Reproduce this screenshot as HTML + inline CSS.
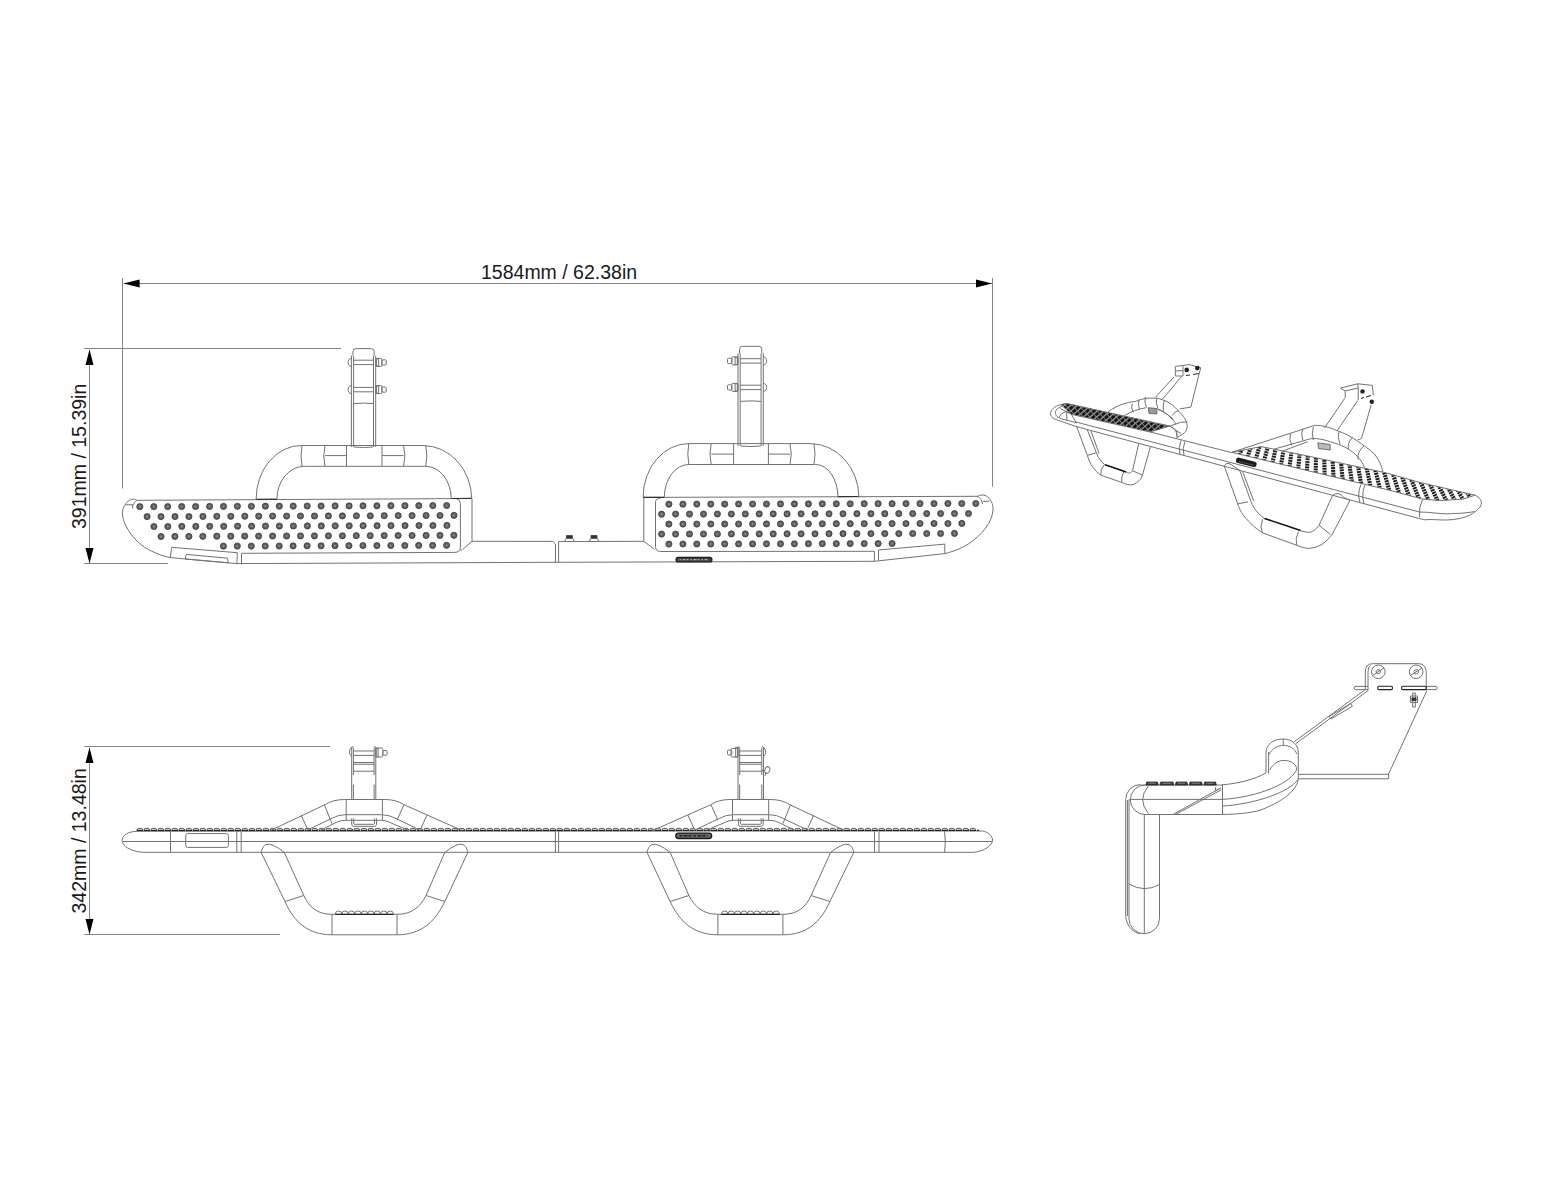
<!DOCTYPE html>
<html><head><meta charset="utf-8"><style>
html,body{margin:0;padding:0;background:#fff;}
svg{display:block;}
.dim line{stroke:#858585;stroke-width:1;}
.arr path{fill:#000;stroke:none;}
.txt text{font-family:"Liberation Sans",sans-serif;font-size:19.5px;fill:#1a1a1a;}
.o{fill:none;stroke:#727272;stroke-width:1;}
.o path,.o line,.o rect,.o circle,.o ellipse{fill:none;stroke:#727272;stroke-width:1;}
.bump{fill:none;stroke:#444;stroke-width:0.9;}
.dot circle{fill:#5e5e5e;stroke:#333;stroke-width:0.7;}
.dot circle.c{fill:#8a8a8a;stroke:none;}
</style></head><body>
<svg width="1552" height="1200" viewBox="0 0 1552 1200">
<rect width="1552" height="1200" fill="#fff"/>
<g class="dim">
<line x1="124.0" y1="283.5" x2="992.0" y2="283.5"/>
<line x1="122.5" y1="278.0" x2="122.5" y2="488.5"/>
<line x1="992.5" y1="278.0" x2="992.5" y2="486.7"/>
<line x1="89.5" y1="350.0" x2="89.5" y2="563.0"/>
<line x1="84.0" y1="348.5" x2="341.0" y2="348.5"/>
<line x1="84.0" y1="563.5" x2="168.0" y2="563.5"/>
<line x1="89.5" y1="748.0" x2="89.5" y2="934.0"/>
<line x1="84.5" y1="746.5" x2="330.0" y2="746.5"/>
<line x1="84.5" y1="934.5" x2="280.0" y2="934.5"/>
</g>
<g class="arr">
<path d="M123.5 283.5 L139.6 279.4 L139.6 287.6 Z"/>
<path d="M992 283.5 L976 279.4 L976 287.6 Z"/>
<path d="M89.5 349.5 L85.5 365 L93.5 365 Z"/>
<path d="M89.5 563.5 L85.5 548 L93.5 548 Z"/>
<path d="M89.5 747.5 L85.5 763 L93.5 763 Z"/>
<path d="M89.5 934.5 L85.5 919 L93.5 919 Z"/>
</g>
<g class="txt">
<text x="481" y="279">1584mm / 62.38in</text>
<text transform="translate(85.5,529) rotate(-90)">391mm / 15.39in</text>
<text transform="translate(85.5,913.5) rotate(-90)">342mm / 13.48in</text>
</g>
<g class="o">
<path d="M136.9 500.3 C135.5 499.4 134 499 132.7 499.2 C128.5 499.8 124.6 504 123 509 C121.6 514 123 520 126 526 C132 538 142 547 152 551.3 C158 554.2 164 556.4 170.3 557.6 L236.9 563.6 L553 562.3 L874.4 561.3"/>
<path d="M136.9 500.3 L472 498.5"/>
<path d="M136.9 500.3 C135 501.5 134 503 133.5 504.8 M125.7 504.8 L133.5 504.8 M132.7 504.8 L132.7 508.6"/>
<path d="M241.5 553.3 L454.6 552.4 Q460.4 552.3 460.4 547.2 L460.4 503.6 Q460.4 499.6 456.6 498.9"/>
<path d="M170.3 557.6 L171.6 547.3 L237.3 552.7 L236.9 563.6"/>
<path d="M186.3 554.4 L227.7 558.2 L228.1 562.8 L185 559 Z"/>
<path d="M241.5 553.3 L241.5 564.3"/>
<path d="M472 498.5 L472 541.3 L462.7 549.5 Q461.5 550.5 460.4 549.8"/>
<path d="M472 541.3 L552.8 541.4 L555.5 544 L555.5 562.3 M558.6 562.3 L558.6 541.6 L643.8 541.3"/>
<path d="M643.8 497.4 L643.8 541.3 L654.3 549.2"/>
<path d="M643.8 497.4 L977.3 496.3"/>
<path d="M660.5 498 Q655.5 498 655.5 503 L655.5 546.5 Q655.5 551.5 660.5 551.5 L874.4 551.3 L874.4 561.3"/>
<path d="M878.5 560.4 L878.5 550 L944.8 544.1 L944.8 553.6"/>
<path d="M874.4 561.3 L944.8 553.6 C955 551 962 548 968.2 544.1 C982 535 992.5 522 993 509.8 C993.3 504 990.5 498 986 495.8 C983 494.5 980 495 977.3 496.3"/>
<path d="M977.3 496.3 C980.5 498 982.3 500.5 982.5 504 M983 501.3 L989.5 501.3"/>
</g>
<g class="dot">
<circle cx="139.8" cy="506.7" r="3.1"/>
<circle class="c" cx="139.8" cy="506.7" r="1.1"/>
<circle cx="153.8" cy="506.6" r="3.1"/>
<circle class="c" cx="153.8" cy="506.6" r="1.1"/>
<circle cx="167.7" cy="506.6" r="3.1"/>
<circle class="c" cx="167.7" cy="506.6" r="1.1"/>
<circle cx="181.7" cy="506.5" r="3.1"/>
<circle class="c" cx="181.7" cy="506.5" r="1.1"/>
<circle cx="195.6" cy="506.5" r="3.1"/>
<circle class="c" cx="195.6" cy="506.5" r="1.1"/>
<circle cx="209.6" cy="506.4" r="3.1"/>
<circle class="c" cx="209.6" cy="506.4" r="1.1"/>
<circle cx="223.5" cy="506.4" r="3.1"/>
<circle class="c" cx="223.5" cy="506.4" r="1.1"/>
<circle cx="237.4" cy="506.3" r="3.1"/>
<circle class="c" cx="237.4" cy="506.3" r="1.1"/>
<circle cx="251.4" cy="506.3" r="3.1"/>
<circle class="c" cx="251.4" cy="506.3" r="1.1"/>
<circle cx="265.4" cy="506.2" r="3.1"/>
<circle class="c" cx="265.4" cy="506.2" r="1.1"/>
<circle cx="279.3" cy="506.2" r="3.1"/>
<circle class="c" cx="279.3" cy="506.2" r="1.1"/>
<circle cx="293.2" cy="506.1" r="3.1"/>
<circle class="c" cx="293.2" cy="506.1" r="1.1"/>
<circle cx="307.2" cy="506.0" r="3.1"/>
<circle class="c" cx="307.2" cy="506.0" r="1.1"/>
<circle cx="321.1" cy="506.0" r="3.1"/>
<circle class="c" cx="321.1" cy="506.0" r="1.1"/>
<circle cx="335.1" cy="505.9" r="3.1"/>
<circle class="c" cx="335.1" cy="505.9" r="1.1"/>
<circle cx="349.1" cy="505.9" r="3.1"/>
<circle class="c" cx="349.1" cy="505.9" r="1.1"/>
<circle cx="363.0" cy="505.8" r="3.1"/>
<circle class="c" cx="363.0" cy="505.8" r="1.1"/>
<circle cx="376.9" cy="505.8" r="3.1"/>
<circle class="c" cx="376.9" cy="505.8" r="1.1"/>
<circle cx="390.9" cy="505.7" r="3.1"/>
<circle class="c" cx="390.9" cy="505.7" r="1.1"/>
<circle cx="404.9" cy="505.7" r="3.1"/>
<circle class="c" cx="404.9" cy="505.7" r="1.1"/>
<circle cx="418.8" cy="505.6" r="3.1"/>
<circle class="c" cx="418.8" cy="505.6" r="1.1"/>
<circle cx="432.8" cy="505.6" r="3.1"/>
<circle class="c" cx="432.8" cy="505.6" r="1.1"/>
<circle cx="446.7" cy="505.5" r="3.1"/>
<circle class="c" cx="446.7" cy="505.5" r="1.1"/>
<circle cx="147.1" cy="516.6" r="3.1"/>
<circle class="c" cx="147.1" cy="516.6" r="1.1"/>
<circle cx="161.0" cy="516.6" r="3.1"/>
<circle class="c" cx="161.0" cy="516.6" r="1.1"/>
<circle cx="175.0" cy="516.5" r="3.1"/>
<circle class="c" cx="175.0" cy="516.5" r="1.1"/>
<circle cx="188.9" cy="516.5" r="3.1"/>
<circle class="c" cx="188.9" cy="516.5" r="1.1"/>
<circle cx="202.9" cy="516.4" r="3.1"/>
<circle class="c" cx="202.9" cy="516.4" r="1.1"/>
<circle cx="216.8" cy="516.3" r="3.1"/>
<circle class="c" cx="216.8" cy="516.3" r="1.1"/>
<circle cx="230.8" cy="516.3" r="3.1"/>
<circle class="c" cx="230.8" cy="516.3" r="1.1"/>
<circle cx="244.8" cy="516.2" r="3.1"/>
<circle class="c" cx="244.8" cy="516.2" r="1.1"/>
<circle cx="258.7" cy="516.2" r="3.1"/>
<circle class="c" cx="258.7" cy="516.2" r="1.1"/>
<circle cx="272.6" cy="516.1" r="3.1"/>
<circle class="c" cx="272.6" cy="516.1" r="1.1"/>
<circle cx="286.6" cy="516.1" r="3.1"/>
<circle class="c" cx="286.6" cy="516.1" r="1.1"/>
<circle cx="300.5" cy="516.0" r="3.1"/>
<circle class="c" cx="300.5" cy="516.0" r="1.1"/>
<circle cx="314.5" cy="516.0" r="3.1"/>
<circle class="c" cx="314.5" cy="516.0" r="1.1"/>
<circle cx="328.4" cy="515.9" r="3.1"/>
<circle class="c" cx="328.4" cy="515.9" r="1.1"/>
<circle cx="342.4" cy="515.9" r="3.1"/>
<circle class="c" cx="342.4" cy="515.9" r="1.1"/>
<circle cx="356.4" cy="515.8" r="3.1"/>
<circle class="c" cx="356.4" cy="515.8" r="1.1"/>
<circle cx="370.3" cy="515.8" r="3.1"/>
<circle class="c" cx="370.3" cy="515.8" r="1.1"/>
<circle cx="384.2" cy="515.7" r="3.1"/>
<circle class="c" cx="384.2" cy="515.7" r="1.1"/>
<circle cx="398.2" cy="515.6" r="3.1"/>
<circle class="c" cx="398.2" cy="515.6" r="1.1"/>
<circle cx="412.1" cy="515.6" r="3.1"/>
<circle class="c" cx="412.1" cy="515.6" r="1.1"/>
<circle cx="426.1" cy="515.5" r="3.1"/>
<circle class="c" cx="426.1" cy="515.5" r="1.1"/>
<circle cx="440.0" cy="515.5" r="3.1"/>
<circle class="c" cx="440.0" cy="515.5" r="1.1"/>
<circle cx="454.0" cy="515.4" r="3.1"/>
<circle class="c" cx="454.0" cy="515.4" r="1.1"/>
<circle cx="153.9" cy="526.5" r="3.1"/>
<circle class="c" cx="153.9" cy="526.5" r="1.1"/>
<circle cx="167.8" cy="526.5" r="3.1"/>
<circle class="c" cx="167.8" cy="526.5" r="1.1"/>
<circle cx="181.8" cy="526.4" r="3.1"/>
<circle class="c" cx="181.8" cy="526.4" r="1.1"/>
<circle cx="195.8" cy="526.4" r="3.1"/>
<circle class="c" cx="195.8" cy="526.4" r="1.1"/>
<circle cx="209.7" cy="526.3" r="3.1"/>
<circle class="c" cx="209.7" cy="526.3" r="1.1"/>
<circle cx="223.7" cy="526.3" r="3.1"/>
<circle class="c" cx="223.7" cy="526.3" r="1.1"/>
<circle cx="237.6" cy="526.2" r="3.1"/>
<circle class="c" cx="237.6" cy="526.2" r="1.1"/>
<circle cx="251.6" cy="526.2" r="3.1"/>
<circle class="c" cx="251.6" cy="526.2" r="1.1"/>
<circle cx="265.5" cy="526.1" r="3.1"/>
<circle class="c" cx="265.5" cy="526.1" r="1.1"/>
<circle cx="279.4" cy="526.1" r="3.1"/>
<circle class="c" cx="279.4" cy="526.1" r="1.1"/>
<circle cx="293.4" cy="526.0" r="3.1"/>
<circle class="c" cx="293.4" cy="526.0" r="1.1"/>
<circle cx="307.4" cy="525.9" r="3.1"/>
<circle class="c" cx="307.4" cy="525.9" r="1.1"/>
<circle cx="321.3" cy="525.9" r="3.1"/>
<circle class="c" cx="321.3" cy="525.9" r="1.1"/>
<circle cx="335.2" cy="525.8" r="3.1"/>
<circle class="c" cx="335.2" cy="525.8" r="1.1"/>
<circle cx="349.2" cy="525.8" r="3.1"/>
<circle class="c" cx="349.2" cy="525.8" r="1.1"/>
<circle cx="363.1" cy="525.7" r="3.1"/>
<circle class="c" cx="363.1" cy="525.7" r="1.1"/>
<circle cx="377.1" cy="525.7" r="3.1"/>
<circle class="c" cx="377.1" cy="525.7" r="1.1"/>
<circle cx="391.0" cy="525.6" r="3.1"/>
<circle class="c" cx="391.0" cy="525.6" r="1.1"/>
<circle cx="405.0" cy="525.6" r="3.1"/>
<circle class="c" cx="405.0" cy="525.6" r="1.1"/>
<circle cx="419.0" cy="525.5" r="3.1"/>
<circle class="c" cx="419.0" cy="525.5" r="1.1"/>
<circle cx="432.9" cy="525.5" r="3.1"/>
<circle class="c" cx="432.9" cy="525.5" r="1.1"/>
<circle cx="446.9" cy="525.4" r="3.1"/>
<circle class="c" cx="446.9" cy="525.4" r="1.1"/>
<circle cx="161.0" cy="536.5" r="3.1"/>
<circle class="c" cx="161.0" cy="536.5" r="1.1"/>
<circle cx="174.9" cy="536.4" r="3.1"/>
<circle class="c" cx="174.9" cy="536.4" r="1.1"/>
<circle cx="188.9" cy="536.4" r="3.1"/>
<circle class="c" cx="188.9" cy="536.4" r="1.1"/>
<circle cx="202.8" cy="536.3" r="3.1"/>
<circle class="c" cx="202.8" cy="536.3" r="1.1"/>
<circle cx="216.8" cy="536.2" r="3.1"/>
<circle class="c" cx="216.8" cy="536.2" r="1.1"/>
<circle cx="230.8" cy="536.2" r="3.1"/>
<circle class="c" cx="230.8" cy="536.2" r="1.1"/>
<circle cx="244.7" cy="536.1" r="3.1"/>
<circle class="c" cx="244.7" cy="536.1" r="1.1"/>
<circle cx="258.6" cy="536.1" r="3.1"/>
<circle class="c" cx="258.6" cy="536.1" r="1.1"/>
<circle cx="272.6" cy="536.0" r="3.1"/>
<circle class="c" cx="272.6" cy="536.0" r="1.1"/>
<circle cx="286.6" cy="536.0" r="3.1"/>
<circle class="c" cx="286.6" cy="536.0" r="1.1"/>
<circle cx="300.5" cy="535.9" r="3.1"/>
<circle class="c" cx="300.5" cy="535.9" r="1.1"/>
<circle cx="314.4" cy="535.9" r="3.1"/>
<circle class="c" cx="314.4" cy="535.9" r="1.1"/>
<circle cx="328.4" cy="535.8" r="3.1"/>
<circle class="c" cx="328.4" cy="535.8" r="1.1"/>
<circle cx="342.4" cy="535.8" r="3.1"/>
<circle class="c" cx="342.4" cy="535.8" r="1.1"/>
<circle cx="356.3" cy="535.7" r="3.1"/>
<circle class="c" cx="356.3" cy="535.7" r="1.1"/>
<circle cx="370.2" cy="535.7" r="3.1"/>
<circle class="c" cx="370.2" cy="535.7" r="1.1"/>
<circle cx="384.2" cy="535.6" r="3.1"/>
<circle class="c" cx="384.2" cy="535.6" r="1.1"/>
<circle cx="398.1" cy="535.5" r="3.1"/>
<circle class="c" cx="398.1" cy="535.5" r="1.1"/>
<circle cx="412.1" cy="535.5" r="3.1"/>
<circle class="c" cx="412.1" cy="535.5" r="1.1"/>
<circle cx="426.1" cy="535.4" r="3.1"/>
<circle class="c" cx="426.1" cy="535.4" r="1.1"/>
<circle cx="440.0" cy="535.4" r="3.1"/>
<circle class="c" cx="440.0" cy="535.4" r="1.1"/>
<circle cx="453.9" cy="535.3" r="3.1"/>
<circle class="c" cx="453.9" cy="535.3" r="1.1"/>
<circle cx="223.4" cy="546.2" r="3.1"/>
<circle class="c" cx="223.4" cy="546.2" r="1.1"/>
<circle cx="237.3" cy="546.1" r="3.1"/>
<circle class="c" cx="237.3" cy="546.1" r="1.1"/>
<circle cx="251.3" cy="546.1" r="3.1"/>
<circle class="c" cx="251.3" cy="546.1" r="1.1"/>
<circle cx="265.2" cy="546.0" r="3.1"/>
<circle class="c" cx="265.2" cy="546.0" r="1.1"/>
<circle cx="279.2" cy="546.0" r="3.1"/>
<circle class="c" cx="279.2" cy="546.0" r="1.1"/>
<circle cx="293.1" cy="545.9" r="3.1"/>
<circle class="c" cx="293.1" cy="545.9" r="1.1"/>
<circle cx="307.1" cy="545.8" r="3.1"/>
<circle class="c" cx="307.1" cy="545.8" r="1.1"/>
<circle cx="321.1" cy="545.8" r="3.1"/>
<circle class="c" cx="321.1" cy="545.8" r="1.1"/>
<circle cx="335.0" cy="545.7" r="3.1"/>
<circle class="c" cx="335.0" cy="545.7" r="1.1"/>
<circle cx="348.9" cy="545.7" r="3.1"/>
<circle class="c" cx="348.9" cy="545.7" r="1.1"/>
<circle cx="362.9" cy="545.6" r="3.1"/>
<circle class="c" cx="362.9" cy="545.6" r="1.1"/>
<circle cx="376.9" cy="545.6" r="3.1"/>
<circle class="c" cx="376.9" cy="545.6" r="1.1"/>
<circle cx="390.8" cy="545.5" r="3.1"/>
<circle class="c" cx="390.8" cy="545.5" r="1.1"/>
<circle cx="404.8" cy="545.5" r="3.1"/>
<circle class="c" cx="404.8" cy="545.5" r="1.1"/>
<circle cx="418.7" cy="545.4" r="3.1"/>
<circle class="c" cx="418.7" cy="545.4" r="1.1"/>
<circle cx="432.6" cy="545.4" r="3.1"/>
<circle class="c" cx="432.6" cy="545.4" r="1.1"/>
<circle cx="446.6" cy="545.3" r="3.1"/>
<circle class="c" cx="446.6" cy="545.3" r="1.1"/>
<circle cx="668.9" cy="504.2" r="3.1"/>
<circle class="c" cx="668.9" cy="504.2" r="1.1"/>
<circle cx="682.9" cy="504.2" r="3.1"/>
<circle class="c" cx="682.9" cy="504.2" r="1.1"/>
<circle cx="696.8" cy="504.1" r="3.1"/>
<circle class="c" cx="696.8" cy="504.1" r="1.1"/>
<circle cx="710.8" cy="504.1" r="3.1"/>
<circle class="c" cx="710.8" cy="504.1" r="1.1"/>
<circle cx="724.7" cy="504.1" r="3.1"/>
<circle class="c" cx="724.7" cy="504.1" r="1.1"/>
<circle cx="738.6" cy="504.0" r="3.1"/>
<circle class="c" cx="738.6" cy="504.0" r="1.1"/>
<circle cx="752.6" cy="504.0" r="3.1"/>
<circle class="c" cx="752.6" cy="504.0" r="1.1"/>
<circle cx="766.5" cy="504.0" r="3.1"/>
<circle class="c" cx="766.5" cy="504.0" r="1.1"/>
<circle cx="780.5" cy="503.9" r="3.1"/>
<circle class="c" cx="780.5" cy="503.9" r="1.1"/>
<circle cx="794.4" cy="503.9" r="3.1"/>
<circle class="c" cx="794.4" cy="503.9" r="1.1"/>
<circle cx="808.4" cy="503.9" r="3.1"/>
<circle class="c" cx="808.4" cy="503.9" r="1.1"/>
<circle cx="822.3" cy="503.8" r="3.1"/>
<circle class="c" cx="822.3" cy="503.8" r="1.1"/>
<circle cx="836.3" cy="503.8" r="3.1"/>
<circle class="c" cx="836.3" cy="503.8" r="1.1"/>
<circle cx="850.2" cy="503.8" r="3.1"/>
<circle class="c" cx="850.2" cy="503.8" r="1.1"/>
<circle cx="864.2" cy="503.7" r="3.1"/>
<circle class="c" cx="864.2" cy="503.7" r="1.1"/>
<circle cx="878.1" cy="503.7" r="3.1"/>
<circle class="c" cx="878.1" cy="503.7" r="1.1"/>
<circle cx="892.1" cy="503.7" r="3.1"/>
<circle class="c" cx="892.1" cy="503.7" r="1.1"/>
<circle cx="906.0" cy="503.6" r="3.1"/>
<circle class="c" cx="906.0" cy="503.6" r="1.1"/>
<circle cx="920.0" cy="503.6" r="3.1"/>
<circle class="c" cx="920.0" cy="503.6" r="1.1"/>
<circle cx="934.0" cy="503.6" r="3.1"/>
<circle class="c" cx="934.0" cy="503.6" r="1.1"/>
<circle cx="947.9" cy="503.5" r="3.1"/>
<circle class="c" cx="947.9" cy="503.5" r="1.1"/>
<circle cx="961.8" cy="503.5" r="3.1"/>
<circle class="c" cx="961.8" cy="503.5" r="1.1"/>
<circle cx="975.8" cy="503.5" r="3.1"/>
<circle class="c" cx="975.8" cy="503.5" r="1.1"/>
<circle cx="661.6" cy="514.2" r="3.1"/>
<circle class="c" cx="661.6" cy="514.2" r="1.1"/>
<circle cx="675.6" cy="514.1" r="3.1"/>
<circle class="c" cx="675.6" cy="514.1" r="1.1"/>
<circle cx="689.5" cy="514.1" r="3.1"/>
<circle class="c" cx="689.5" cy="514.1" r="1.1"/>
<circle cx="703.5" cy="514.1" r="3.1"/>
<circle class="c" cx="703.5" cy="514.1" r="1.1"/>
<circle cx="717.4" cy="514.0" r="3.1"/>
<circle class="c" cx="717.4" cy="514.0" r="1.1"/>
<circle cx="731.4" cy="514.0" r="3.1"/>
<circle class="c" cx="731.4" cy="514.0" r="1.1"/>
<circle cx="745.3" cy="514.0" r="3.1"/>
<circle class="c" cx="745.3" cy="514.0" r="1.1"/>
<circle cx="759.2" cy="513.9" r="3.1"/>
<circle class="c" cx="759.2" cy="513.9" r="1.1"/>
<circle cx="773.2" cy="513.9" r="3.1"/>
<circle class="c" cx="773.2" cy="513.9" r="1.1"/>
<circle cx="787.1" cy="513.9" r="3.1"/>
<circle class="c" cx="787.1" cy="513.9" r="1.1"/>
<circle cx="801.1" cy="513.8" r="3.1"/>
<circle class="c" cx="801.1" cy="513.8" r="1.1"/>
<circle cx="815.0" cy="513.8" r="3.1"/>
<circle class="c" cx="815.0" cy="513.8" r="1.1"/>
<circle cx="829.0" cy="513.8" r="3.1"/>
<circle class="c" cx="829.0" cy="513.8" r="1.1"/>
<circle cx="843.0" cy="513.8" r="3.1"/>
<circle class="c" cx="843.0" cy="513.8" r="1.1"/>
<circle cx="856.9" cy="513.7" r="3.1"/>
<circle class="c" cx="856.9" cy="513.7" r="1.1"/>
<circle cx="870.9" cy="513.7" r="3.1"/>
<circle class="c" cx="870.9" cy="513.7" r="1.1"/>
<circle cx="884.8" cy="513.7" r="3.1"/>
<circle class="c" cx="884.8" cy="513.7" r="1.1"/>
<circle cx="898.8" cy="513.6" r="3.1"/>
<circle class="c" cx="898.8" cy="513.6" r="1.1"/>
<circle cx="912.7" cy="513.6" r="3.1"/>
<circle class="c" cx="912.7" cy="513.6" r="1.1"/>
<circle cx="926.7" cy="513.6" r="3.1"/>
<circle class="c" cx="926.7" cy="513.6" r="1.1"/>
<circle cx="940.6" cy="513.5" r="3.1"/>
<circle class="c" cx="940.6" cy="513.5" r="1.1"/>
<circle cx="954.5" cy="513.5" r="3.1"/>
<circle class="c" cx="954.5" cy="513.5" r="1.1"/>
<circle cx="968.5" cy="513.5" r="3.1"/>
<circle class="c" cx="968.5" cy="513.5" r="1.1"/>
<circle cx="668.9" cy="524.1" r="3.1"/>
<circle class="c" cx="668.9" cy="524.1" r="1.1"/>
<circle cx="682.9" cy="524.1" r="3.1"/>
<circle class="c" cx="682.9" cy="524.1" r="1.1"/>
<circle cx="696.8" cy="524.1" r="3.1"/>
<circle class="c" cx="696.8" cy="524.1" r="1.1"/>
<circle cx="710.8" cy="524.0" r="3.1"/>
<circle class="c" cx="710.8" cy="524.0" r="1.1"/>
<circle cx="724.7" cy="524.0" r="3.1"/>
<circle class="c" cx="724.7" cy="524.0" r="1.1"/>
<circle cx="738.6" cy="524.0" r="3.1"/>
<circle class="c" cx="738.6" cy="524.0" r="1.1"/>
<circle cx="752.6" cy="523.9" r="3.1"/>
<circle class="c" cx="752.6" cy="523.9" r="1.1"/>
<circle cx="766.5" cy="523.9" r="3.1"/>
<circle class="c" cx="766.5" cy="523.9" r="1.1"/>
<circle cx="780.5" cy="523.9" r="3.1"/>
<circle class="c" cx="780.5" cy="523.9" r="1.1"/>
<circle cx="794.4" cy="523.8" r="3.1"/>
<circle class="c" cx="794.4" cy="523.8" r="1.1"/>
<circle cx="808.4" cy="523.8" r="3.1"/>
<circle class="c" cx="808.4" cy="523.8" r="1.1"/>
<circle cx="822.3" cy="523.8" r="3.1"/>
<circle class="c" cx="822.3" cy="523.8" r="1.1"/>
<circle cx="836.3" cy="523.7" r="3.1"/>
<circle class="c" cx="836.3" cy="523.7" r="1.1"/>
<circle cx="850.2" cy="523.7" r="3.1"/>
<circle class="c" cx="850.2" cy="523.7" r="1.1"/>
<circle cx="864.2" cy="523.7" r="3.1"/>
<circle class="c" cx="864.2" cy="523.7" r="1.1"/>
<circle cx="878.1" cy="523.6" r="3.1"/>
<circle class="c" cx="878.1" cy="523.6" r="1.1"/>
<circle cx="892.1" cy="523.6" r="3.1"/>
<circle class="c" cx="892.1" cy="523.6" r="1.1"/>
<circle cx="906.0" cy="523.6" r="3.1"/>
<circle class="c" cx="906.0" cy="523.6" r="1.1"/>
<circle cx="920.0" cy="523.5" r="3.1"/>
<circle class="c" cx="920.0" cy="523.5" r="1.1"/>
<circle cx="934.0" cy="523.5" r="3.1"/>
<circle class="c" cx="934.0" cy="523.5" r="1.1"/>
<circle cx="947.9" cy="523.5" r="3.1"/>
<circle class="c" cx="947.9" cy="523.5" r="1.1"/>
<circle cx="961.8" cy="523.4" r="3.1"/>
<circle class="c" cx="961.8" cy="523.4" r="1.1"/>
<circle cx="661.6" cy="534.1" r="3.1"/>
<circle class="c" cx="661.6" cy="534.1" r="1.1"/>
<circle cx="675.6" cy="534.1" r="3.1"/>
<circle class="c" cx="675.6" cy="534.1" r="1.1"/>
<circle cx="689.5" cy="534.0" r="3.1"/>
<circle class="c" cx="689.5" cy="534.0" r="1.1"/>
<circle cx="703.5" cy="534.0" r="3.1"/>
<circle class="c" cx="703.5" cy="534.0" r="1.1"/>
<circle cx="717.4" cy="534.0" r="3.1"/>
<circle class="c" cx="717.4" cy="534.0" r="1.1"/>
<circle cx="731.4" cy="533.9" r="3.1"/>
<circle class="c" cx="731.4" cy="533.9" r="1.1"/>
<circle cx="745.3" cy="533.9" r="3.1"/>
<circle class="c" cx="745.3" cy="533.9" r="1.1"/>
<circle cx="759.2" cy="533.9" r="3.1"/>
<circle class="c" cx="759.2" cy="533.9" r="1.1"/>
<circle cx="773.2" cy="533.9" r="3.1"/>
<circle class="c" cx="773.2" cy="533.9" r="1.1"/>
<circle cx="787.1" cy="533.8" r="3.1"/>
<circle class="c" cx="787.1" cy="533.8" r="1.1"/>
<circle cx="801.1" cy="533.8" r="3.1"/>
<circle class="c" cx="801.1" cy="533.8" r="1.1"/>
<circle cx="815.0" cy="533.8" r="3.1"/>
<circle class="c" cx="815.0" cy="533.8" r="1.1"/>
<circle cx="829.0" cy="533.7" r="3.1"/>
<circle class="c" cx="829.0" cy="533.7" r="1.1"/>
<circle cx="843.0" cy="533.7" r="3.1"/>
<circle class="c" cx="843.0" cy="533.7" r="1.1"/>
<circle cx="856.9" cy="533.7" r="3.1"/>
<circle class="c" cx="856.9" cy="533.7" r="1.1"/>
<circle cx="870.9" cy="533.6" r="3.1"/>
<circle class="c" cx="870.9" cy="533.6" r="1.1"/>
<circle cx="884.8" cy="533.6" r="3.1"/>
<circle class="c" cx="884.8" cy="533.6" r="1.1"/>
<circle cx="898.8" cy="533.6" r="3.1"/>
<circle class="c" cx="898.8" cy="533.6" r="1.1"/>
<circle cx="912.7" cy="533.5" r="3.1"/>
<circle class="c" cx="912.7" cy="533.5" r="1.1"/>
<circle cx="926.7" cy="533.5" r="3.1"/>
<circle class="c" cx="926.7" cy="533.5" r="1.1"/>
<circle cx="940.6" cy="533.5" r="3.1"/>
<circle class="c" cx="940.6" cy="533.5" r="1.1"/>
<circle cx="954.5" cy="533.4" r="3.1"/>
<circle class="c" cx="954.5" cy="533.4" r="1.1"/>
<circle cx="668.9" cy="544.1" r="3.1"/>
<circle class="c" cx="668.9" cy="544.1" r="1.1"/>
<circle cx="682.9" cy="544.0" r="3.1"/>
<circle class="c" cx="682.9" cy="544.0" r="1.1"/>
<circle cx="696.8" cy="544.0" r="3.1"/>
<circle class="c" cx="696.8" cy="544.0" r="1.1"/>
<circle cx="710.8" cy="544.0" r="3.1"/>
<circle class="c" cx="710.8" cy="544.0" r="1.1"/>
<circle cx="724.7" cy="543.9" r="3.1"/>
<circle class="c" cx="724.7" cy="543.9" r="1.1"/>
<circle cx="738.6" cy="543.9" r="3.1"/>
<circle class="c" cx="738.6" cy="543.9" r="1.1"/>
<circle cx="752.6" cy="543.9" r="3.1"/>
<circle class="c" cx="752.6" cy="543.9" r="1.1"/>
<circle cx="766.5" cy="543.8" r="3.1"/>
<circle class="c" cx="766.5" cy="543.8" r="1.1"/>
<circle cx="780.5" cy="543.8" r="3.1"/>
<circle class="c" cx="780.5" cy="543.8" r="1.1"/>
<circle cx="794.4" cy="543.8" r="3.1"/>
<circle class="c" cx="794.4" cy="543.8" r="1.1"/>
<circle cx="808.4" cy="543.7" r="3.1"/>
<circle class="c" cx="808.4" cy="543.7" r="1.1"/>
<circle cx="822.3" cy="543.7" r="3.1"/>
<circle class="c" cx="822.3" cy="543.7" r="1.1"/>
<circle cx="836.3" cy="543.7" r="3.1"/>
<circle class="c" cx="836.3" cy="543.7" r="1.1"/>
<circle cx="850.2" cy="543.6" r="3.1"/>
<circle class="c" cx="850.2" cy="543.6" r="1.1"/>
<circle cx="864.2" cy="543.6" r="3.1"/>
<circle class="c" cx="864.2" cy="543.6" r="1.1"/>
<circle cx="878.1" cy="543.6" r="3.1"/>
<circle class="c" cx="878.1" cy="543.6" r="1.1"/>
<circle cx="892.1" cy="543.5" r="3.1"/>
<circle class="c" cx="892.1" cy="543.5" r="1.1"/>
</g>
<rect x="676" y="557.4" width="36" height="4.6" rx="2.3" fill="#444" stroke="#1a1a1a" stroke-width="1.1"/>
<path d="M679.5 559.7 L708.5 559.7" stroke="#ccc" stroke-width="0.9" stroke-dasharray="1.5 1.5 3 1 2 2"/>
<path class="o" d="M564.9 541 Q564.9 538.6 566.9 538.3 L571.9 538.3 Q573.9 538.6 573.9 541 M566.4 538.3 L566.4 535.5 L572.4 535.5 L572.4 538.3"/>
<rect x="566.4" y="535.5" width="6" height="3" fill="#333"/>
<path class="o" d="M589.5 541 Q589.5 538.6 591.5 538.3 L596.5 538.3 Q598.5 538.6 598.5 541 M591 538.3 L591 535.5 L597 535.5 L597 538.3"/>
<rect x="591" y="535.5" width="6" height="3" fill="#333"/>
<path d="M256.1 499.3 L276.9 499.2 M451.3 498.5 L471.7 498.4 M643.1 497.4 L664.3 497.3 M838 496.6 L858.9 496.5" stroke="#333" stroke-width="1.2" fill="none"/>
<g class="o">
<path d="M256.1 499.2 A45.19999999999999 53.69999999999999 0 0 1 301.3 445.5 L422.8 445.5 A48.89999999999998 53.69999999999999 0 0 1 471.7 499.2"/>
<path d="M276.9 499.2 A27.400000000000034 32.89999999999998 0 0 1 304.3 466.3 L425.8 466.3 A25.5 32.89999999999998 0 0 1 451.3 499.2"/>
<path d="M302 445.5 Q300 455.9 302 466.3"/>
<path d="M325 445.5 Q322.5 455.9 325 466.3"/>
<path d="M346.5 445.5 L346.5 466.3 M382 445.5 L382 466.3"/>
<path d="M403.6 445.5 Q406.1 455.9 403.6 466.3"/>
<path d="M425.8 445.5 Q427.8 455.9 425.8 466.3"/>
<path d="M325 455.6 L346.5 455.6 M382 455.6 L403.6 455.6"/>
</g>
<g class="o">
<path d="M643.1 497.4 A45.69999999999993 53.799999999999955 0 0 1 688.8 443.6 L810.1 443.6 A48.799999999999955 53.799999999999955 0 0 1 858.9 497.4"/>
<path d="M664.3 497.4 A24.5 32.89999999999998 0 0 1 688.8 464.5 L815.6 464.5 A22.399999999999977 32.89999999999998 0 0 1 838.0 497.4"/>
<path d="M688.8 443.6 Q686.8 454.05 688.8 464.5"/>
<path d="M711.2 443.6 Q708.7 454.05 711.2 464.5"/>
<path d="M733.6 443.6 L733.6 464.5 M768.4 443.6 L768.4 464.5"/>
<path d="M790 443.6 Q792.5 454.05 790 464.5"/>
<path d="M814 443.6 Q816 454.05 814 464.5"/>
<path d="M711.2 454.1 L733.6 454.1 M768.4 454.1 L790 454.1"/>
</g>
<g class="o">
<path d="M352.9 355.6 L352.9 351.6 Q352.9 348.6 355.9 348.6 L371.2 348.6 Q374.2 348.6 374.2 351.6 L374.2 355.6"/>
<path d="M351.4 355.6 L351.4 447 M353.59999999999997 355.6 L353.59999999999997 447 M375.7 355.6 L375.7 447 M373.5 355.6 L373.5 447"/>
<path d="M353.9 447 Q363.54999999999995 448 373.2 447"/>
<path d="M353.59999999999997 360.2 L373.5 360.2 M353.59999999999997 364.59999999999997 L373.5 364.59999999999997"/>
<path d="M351.4 358.4 C346.9 358.4 346.9 366.4 351.4 366.4"/>
<rect class="o" x="375.7" y="358.4" width="6.2" height="8" rx="1"/>
<rect class="o" x="381.9" y="359.79999999999995" width="4.3" height="5.2" rx="1"/>
<rect x="376.4" y="358.79999999999995" width="2.2" height="7.2" fill="#333"/>
<path d="M353.59999999999997 387.40000000000003 L373.5 387.40000000000003 M353.59999999999997 391.8 L373.5 391.8"/>
<path d="M351.4 385.6 C346.9 385.6 346.9 393.6 351.4 393.6"/>
<rect class="o" x="375.7" y="385.6" width="6.2" height="8" rx="1"/>
<rect class="o" x="381.9" y="387.0" width="4.3" height="5.2" rx="1"/>
<rect x="376.4" y="386.0" width="2.2" height="7.2" fill="#333"/>
<path d="M353.59999999999997 403.6 Q363.54999999999995 402.6 373.5 403.6"/>
</g>
<g class="o">
<path d="M739.5 353.3 L739.5 349.3 Q739.5 346.3 742.5 346.3 L758.8 346.3 Q761.8 346.3 761.8 349.3 L761.8 353.3"/>
<path d="M738.0 353.3 L738.0 446 M740.2 353.3 L740.2 446 M763.3 353.3 L763.3 446 M761.0999999999999 353.3 L761.0999999999999 446"/>
<path d="M740.5 446 Q750.65 447 760.8 446"/>
<path d="M740.2 358.7 L761.0999999999999 358.7 M740.2 363.09999999999997 L761.0999999999999 363.09999999999997"/>
<path d="M763.3 356.9 C767.8 356.9 767.8 364.9 763.3 364.9"/>
<rect class="o" x="731.8" y="356.9" width="6.2" height="8" rx="1"/>
<rect class="o" x="727.5" y="358.29999999999995" width="4.3" height="5.2" rx="1"/>
<rect x="735.1" y="357.29999999999995" width="2.2" height="7.2" fill="#333"/>
<path d="M740.2 385.2 L761.0999999999999 385.2 M740.2 389.59999999999997 L761.0999999999999 389.59999999999997"/>
<path d="M763.3 383.4 C767.8 383.4 767.8 391.4 763.3 391.4"/>
<rect class="o" x="731.8" y="383.4" width="6.2" height="8" rx="1"/>
<rect class="o" x="727.5" y="384.79999999999995" width="4.3" height="5.2" rx="1"/>
<rect x="735.1" y="383.79999999999995" width="2.2" height="7.2" fill="#333"/>
<path d="M740.2 401.4 Q750.65 400.4 761.0999999999999 401.4"/>
</g>
<g class="o">
<path d="M137 831.3 C128 831.5 122.2 835.5 122.1 840.5 C122.2 846 130 851 142.3 852.3 L974 852.3 C984 851 992 846 992.6 840.5 C992.6 836 988 832 982.8 831 Z"/>
<path d="M122.2 841.5 L992.5 841.5"/>
<path d="M170.5 831.3 L170.5 852.3"/>
<path d="M236.8 831.3 L236.8 852.3"/>
<path d="M241.2 831.3 L241.2 852.3"/>
<path d="M555.4 831.3 L555.4 852.3"/>
<path d="M558.6 831.3 L558.6 852.3"/>
<path d="M874.5 831.3 L874.5 852.3"/>
<path d="M879 831.3 L879 852.3"/>
<path d="M944.6 831.3 Q946 841.5 944.6 852.3"/>
<rect class="o" x="185.7" y="833.6" width="42.7" height="13.8" rx="2"/>
</g>
<path class="bump" d="M136.8 830.6 L137.2 829 Q137.5 828.4 138.2 828.4 L141.2 828.4 Q141.9 828.4 142.2 829 L142.6 830.6 M143.8 830.6 L144.2 829 Q144.5 828.4 145.2 828.4 L148.2 828.4 Q148.9 828.4 149.2 829 L149.6 830.6 M150.8 830.6 L151.2 829 Q151.5 828.4 152.2 828.4 L155.2 828.4 Q155.9 828.4 156.2 829 L156.6 830.6 M157.8 830.6 L158.2 829 Q158.5 828.4 159.2 828.4 L162.2 828.4 Q162.9 828.4 163.2 829 L163.6 830.6 M164.8 830.6 L165.2 829 Q165.5 828.4 166.2 828.4 L169.2 828.4 Q169.9 828.4 170.2 829 L170.6 830.6 M171.8 830.6 L172.2 829 Q172.5 828.4 173.2 828.4 L176.2 828.4 Q176.9 828.4 177.2 829 L177.6 830.6 M178.8 830.6 L179.2 829 Q179.5 828.4 180.2 828.4 L183.2 828.4 Q183.9 828.4 184.2 829 L184.6 830.6 M185.8 830.6 L186.2 829 Q186.5 828.4 187.2 828.4 L190.2 828.4 Q190.9 828.4 191.2 829 L191.6 830.6 M192.8 830.6 L193.2 829 Q193.5 828.4 194.2 828.4 L197.2 828.4 Q197.9 828.4 198.2 829 L198.6 830.6 M199.8 830.6 L200.2 829 Q200.5 828.4 201.2 828.4 L204.2 828.4 Q204.9 828.4 205.2 829 L205.6 830.6 M206.8 830.6 L207.2 829 Q207.5 828.4 208.2 828.4 L211.2 828.4 Q211.9 828.4 212.2 829 L212.6 830.6 M213.8 830.6 L214.2 829 Q214.5 828.4 215.2 828.4 L218.2 828.4 Q218.9 828.4 219.2 829 L219.6 830.6 M220.8 830.6 L221.2 829 Q221.5 828.4 222.2 828.4 L225.2 828.4 Q225.9 828.4 226.2 829 L226.6 830.6 M227.8 830.6 L228.2 829 Q228.5 828.4 229.2 828.4 L232.2 828.4 Q232.9 828.4 233.2 829 L233.6 830.6 M234.8 830.6 L235.2 829 Q235.5 828.4 236.2 828.4 L239.2 828.4 Q239.9 828.4 240.2 829 L240.6 830.6 M241.8 830.6 L242.2 829 Q242.5 828.4 243.2 828.4 L246.2 828.4 Q246.9 828.4 247.2 829 L247.6 830.6 M248.8 830.6 L249.2 829 Q249.5 828.4 250.2 828.4 L253.2 828.4 Q253.9 828.4 254.2 829 L254.6 830.6 M255.8 830.6 L256.2 829 Q256.5 828.4 257.2 828.4 L260.2 828.4 Q260.9 828.4 261.2 829 L261.6 830.6 M262.8 830.6 L263.2 829 Q263.5 828.4 264.2 828.4 L267.2 828.4 Q267.9 828.4 268.2 829 L268.6 830.6 M269.8 830.6 L270.2 829 Q270.5 828.4 271.2 828.4 L274.2 828.4 Q274.9 828.4 275.2 829 L275.6 830.6 M276.8 830.6 L277.2 829 Q277.5 828.4 278.2 828.4 L281.2 828.4 Q281.9 828.4 282.2 829 L282.6 830.6 M283.8 830.6 L284.2 829 Q284.5 828.4 285.2 828.4 L288.2 828.4 Q288.9 828.4 289.2 829 L289.6 830.6 M290.8 830.6 L291.2 829 Q291.5 828.4 292.2 828.4 L295.2 828.4 Q295.9 828.4 296.2 829 L296.6 830.6 M297.8 830.6 L298.2 829 Q298.5 828.4 299.2 828.4 L302.2 828.4 Q302.9 828.4 303.2 829 L303.6 830.6 M304.8 830.6 L305.2 829 Q305.5 828.4 306.2 828.4 L309.2 828.4 Q309.9 828.4 310.2 829 L310.6 830.6 M311.8 830.6 L312.2 829 Q312.5 828.4 313.2 828.4 L316.2 828.4 Q316.9 828.4 317.2 829 L317.6 830.6 M318.8 830.6 L319.2 829 Q319.5 828.4 320.2 828.4 L323.2 828.4 Q323.9 828.4 324.2 829 L324.6 830.6 M325.8 830.6 L326.2 829 Q326.5 828.4 327.2 828.4 L330.2 828.4 Q330.9 828.4 331.2 829 L331.6 830.6 M332.8 830.6 L333.2 829 Q333.5 828.4 334.2 828.4 L337.2 828.4 Q337.9 828.4 338.2 829 L338.6 830.6 M339.8 830.6 L340.2 829 Q340.5 828.4 341.2 828.4 L344.2 828.4 Q344.9 828.4 345.2 829 L345.6 830.6 M346.8 830.6 L347.2 829 Q347.5 828.4 348.2 828.4 L351.2 828.4 Q351.9 828.4 352.2 829 L352.6 830.6 M353.8 830.6 L354.2 829 Q354.5 828.4 355.2 828.4 L358.2 828.4 Q358.9 828.4 359.2 829 L359.6 830.6 M360.8 830.6 L361.2 829 Q361.5 828.4 362.2 828.4 L365.2 828.4 Q365.9 828.4 366.2 829 L366.6 830.6 M367.8 830.6 L368.2 829 Q368.5 828.4 369.2 828.4 L372.2 828.4 Q372.9 828.4 373.2 829 L373.6 830.6 M374.8 830.6 L375.2 829 Q375.5 828.4 376.2 828.4 L379.2 828.4 Q379.9 828.4 380.2 829 L380.6 830.6 M381.8 830.6 L382.2 829 Q382.5 828.4 383.2 828.4 L386.2 828.4 Q386.9 828.4 387.2 829 L387.6 830.6 M388.8 830.6 L389.2 829 Q389.5 828.4 390.2 828.4 L393.2 828.4 Q393.9 828.4 394.2 829 L394.6 830.6 M395.8 830.6 L396.2 829 Q396.5 828.4 397.2 828.4 L400.2 828.4 Q400.9 828.4 401.2 829 L401.6 830.6 M402.8 830.6 L403.2 829 Q403.5 828.4 404.2 828.4 L407.2 828.4 Q407.9 828.4 408.2 829 L408.6 830.6 M409.8 830.6 L410.2 829 Q410.5 828.4 411.2 828.4 L414.2 828.4 Q414.9 828.4 415.2 829 L415.6 830.6 M416.8 830.6 L417.2 829 Q417.5 828.4 418.2 828.4 L421.2 828.4 Q421.9 828.4 422.2 829 L422.6 830.6 M423.8 830.6 L424.2 829 Q424.5 828.4 425.2 828.4 L428.2 828.4 Q428.9 828.4 429.2 829 L429.6 830.6 M430.8 830.6 L431.2 829 Q431.5 828.4 432.2 828.4 L435.2 828.4 Q435.9 828.4 436.2 829 L436.6 830.6 M437.8 830.6 L438.2 829 Q438.5 828.4 439.2 828.4 L442.2 828.4 Q442.9 828.4 443.2 829 L443.6 830.6 M444.8 830.6 L445.2 829 Q445.5 828.4 446.2 828.4 L449.2 828.4 Q449.9 828.4 450.2 829 L450.6 830.6 M451.8 830.6 L452.2 829 Q452.5 828.4 453.2 828.4 L456.2 828.4 Q456.9 828.4 457.2 829 L457.6 830.6 M458.8 830.6 L459.2 829 Q459.5 828.4 460.2 828.4 L463.2 828.4 Q463.9 828.4 464.2 829 L464.6 830.6 M465.8 830.6 L466.2 829 Q466.5 828.4 467.2 828.4 L470.2 828.4 Q470.9 828.4 471.2 829 L471.6 830.6 M472.8 830.6 L473.2 829 Q473.5 828.4 474.2 828.4 L477.2 828.4 Q477.9 828.4 478.2 829 L478.6 830.6 M479.8 830.6 L480.2 829 Q480.5 828.4 481.2 828.4 L484.2 828.4 Q484.9 828.4 485.2 829 L485.6 830.6 M486.8 830.6 L487.2 829 Q487.5 828.4 488.2 828.4 L491.2 828.4 Q491.9 828.4 492.2 829 L492.6 830.6 M493.8 830.6 L494.2 829 Q494.5 828.4 495.2 828.4 L498.2 828.4 Q498.9 828.4 499.2 829 L499.6 830.6 M500.8 830.6 L501.2 829 Q501.5 828.4 502.2 828.4 L505.2 828.4 Q505.9 828.4 506.2 829 L506.6 830.6 M507.8 830.6 L508.2 829 Q508.5 828.4 509.2 828.4 L512.2 828.4 Q512.9 828.4 513.2 829 L513.6 830.6 M514.8 830.6 L515.2 829 Q515.5 828.4 516.2 828.4 L519.2 828.4 Q519.9 828.4 520.2 829 L520.6 830.6 M521.8 830.6 L522.2 829 Q522.5 828.4 523.2 828.4 L526.2 828.4 Q526.9 828.4 527.2 829 L527.6 830.6 M528.8 830.6 L529.2 829 Q529.5 828.4 530.2 828.4 L533.2 828.4 Q533.9 828.4 534.2 829 L534.6 830.6 M535.8 830.6 L536.2 829 Q536.5 828.4 537.2 828.4 L540.2 828.4 Q540.9 828.4 541.2 829 L541.6 830.6 M542.8 830.6 L543.2 829 Q543.5 828.4 544.2 828.4 L547.2 828.4 Q547.9 828.4 548.2 829 L548.6 830.6 M549.8 830.6 L550.2 829 Q550.5 828.4 551.2 828.4 L554.2 828.4 Q554.9 828.4 555.2 829 L555.6 830.6 M556.8 830.6 L557.2 829 Q557.5 828.4 558.2 828.4 L561.2 828.4 Q561.9 828.4 562.2 829 L562.6 830.6 M563.8 830.6 L564.2 829 Q564.5 828.4 565.2 828.4 L568.2 828.4 Q568.9 828.4 569.2 829 L569.6 830.6 M570.8 830.6 L571.2 829 Q571.5 828.4 572.2 828.4 L575.2 828.4 Q575.9 828.4 576.2 829 L576.6 830.6 M577.8 830.6 L578.2 829 Q578.5 828.4 579.2 828.4 L582.2 828.4 Q582.9 828.4 583.2 829 L583.6 830.6 M584.8 830.6 L585.2 829 Q585.5 828.4 586.2 828.4 L589.2 828.4 Q589.9 828.4 590.2 829 L590.6 830.6 M591.8 830.6 L592.2 829 Q592.5 828.4 593.2 828.4 L596.2 828.4 Q596.9 828.4 597.2 829 L597.6 830.6 M598.8 830.6 L599.2 829 Q599.5 828.4 600.2 828.4 L603.2 828.4 Q603.9 828.4 604.2 829 L604.6 830.6 M605.8 830.6 L606.2 829 Q606.5 828.4 607.2 828.4 L610.2 828.4 Q610.9 828.4 611.2 829 L611.6 830.6 M612.8 830.6 L613.2 829 Q613.5 828.4 614.2 828.4 L617.2 828.4 Q617.9 828.4 618.2 829 L618.6 830.6 M619.8 830.6 L620.2 829 Q620.5 828.4 621.2 828.4 L624.2 828.4 Q624.9 828.4 625.2 829 L625.6 830.6 M626.8 830.6 L627.2 829 Q627.5 828.4 628.2 828.4 L631.2 828.4 Q631.9 828.4 632.2 829 L632.6 830.6 M633.8 830.6 L634.2 829 Q634.5 828.4 635.2 828.4 L638.2 828.4 Q638.9 828.4 639.2 829 L639.6 830.6 M640.8 830.6 L641.2 829 Q641.5 828.4 642.2 828.4 L645.2 828.4 Q645.9 828.4 646.2 829 L646.6 830.6 M647.8 830.6 L648.2 829 Q648.5 828.4 649.2 828.4 L652.2 828.4 Q652.9 828.4 653.2 829 L653.6 830.6 M654.8 830.6 L655.2 829 Q655.5 828.4 656.2 828.4 L659.2 828.4 Q659.9 828.4 660.2 829 L660.6 830.6 M661.8 830.6 L662.2 829 Q662.5 828.4 663.2 828.4 L666.2 828.4 Q666.9 828.4 667.2 829 L667.6 830.6 M668.8 830.6 L669.2 829 Q669.5 828.4 670.2 828.4 L673.2 828.4 Q673.9 828.4 674.2 829 L674.6 830.6 M675.8 830.6 L676.2 829 Q676.5 828.4 677.2 828.4 L680.2 828.4 Q680.9 828.4 681.2 829 L681.6 830.6 M682.8 830.6 L683.2 829 Q683.5 828.4 684.2 828.4 L687.2 828.4 Q687.9 828.4 688.2 829 L688.6 830.6 M689.8 830.6 L690.2 829 Q690.5 828.4 691.2 828.4 L694.2 828.4 Q694.9 828.4 695.2 829 L695.6 830.6 M696.8 830.6 L697.2 829 Q697.5 828.4 698.2 828.4 L701.2 828.4 Q701.9 828.4 702.2 829 L702.6 830.6 M703.8 830.6 L704.2 829 Q704.5 828.4 705.2 828.4 L708.2 828.4 Q708.9 828.4 709.2 829 L709.6 830.6 M710.8 830.6 L711.2 829 Q711.5 828.4 712.2 828.4 L715.2 828.4 Q715.9 828.4 716.2 829 L716.6 830.6 M717.8 830.6 L718.2 829 Q718.5 828.4 719.2 828.4 L722.2 828.4 Q722.9 828.4 723.2 829 L723.6 830.6 M724.8 830.6 L725.2 829 Q725.5 828.4 726.2 828.4 L729.2 828.4 Q729.9 828.4 730.2 829 L730.6 830.6 M731.8 830.6 L732.2 829 Q732.5 828.4 733.2 828.4 L736.2 828.4 Q736.9 828.4 737.2 829 L737.6 830.6 M738.8 830.6 L739.2 829 Q739.5 828.4 740.2 828.4 L743.2 828.4 Q743.9 828.4 744.2 829 L744.6 830.6 M745.8 830.6 L746.2 829 Q746.5 828.4 747.2 828.4 L750.2 828.4 Q750.9 828.4 751.2 829 L751.6 830.6 M752.8 830.6 L753.2 829 Q753.5 828.4 754.2 828.4 L757.2 828.4 Q757.9 828.4 758.2 829 L758.6 830.6 M759.8 830.6 L760.2 829 Q760.5 828.4 761.2 828.4 L764.2 828.4 Q764.9 828.4 765.2 829 L765.6 830.6 M766.8 830.6 L767.2 829 Q767.5 828.4 768.2 828.4 L771.2 828.4 Q771.9 828.4 772.2 829 L772.6 830.6 M773.8 830.6 L774.2 829 Q774.5 828.4 775.2 828.4 L778.2 828.4 Q778.9 828.4 779.2 829 L779.6 830.6 M780.8 830.6 L781.2 829 Q781.5 828.4 782.2 828.4 L785.2 828.4 Q785.9 828.4 786.2 829 L786.6 830.6 M787.8 830.6 L788.2 829 Q788.5 828.4 789.2 828.4 L792.2 828.4 Q792.9 828.4 793.2 829 L793.6 830.6 M794.8 830.6 L795.2 829 Q795.5 828.4 796.2 828.4 L799.2 828.4 Q799.9 828.4 800.2 829 L800.6 830.6 M801.8 830.6 L802.2 829 Q802.5 828.4 803.2 828.4 L806.2 828.4 Q806.9 828.4 807.2 829 L807.6 830.6 M808.8 830.6 L809.2 829 Q809.5 828.4 810.2 828.4 L813.2 828.4 Q813.9 828.4 814.2 829 L814.6 830.6 M815.8 830.6 L816.2 829 Q816.5 828.4 817.2 828.4 L820.2 828.4 Q820.9 828.4 821.2 829 L821.6 830.6 M822.8 830.6 L823.2 829 Q823.5 828.4 824.2 828.4 L827.2 828.4 Q827.9 828.4 828.2 829 L828.6 830.6 M829.8 830.6 L830.2 829 Q830.5 828.4 831.2 828.4 L834.2 828.4 Q834.9 828.4 835.2 829 L835.6 830.6 M836.8 830.6 L837.2 829 Q837.5 828.4 838.2 828.4 L841.2 828.4 Q841.9 828.4 842.2 829 L842.6 830.6 M843.8 830.6 L844.2 829 Q844.5 828.4 845.2 828.4 L848.2 828.4 Q848.9 828.4 849.2 829 L849.6 830.6 M850.8 830.6 L851.2 829 Q851.5 828.4 852.2 828.4 L855.2 828.4 Q855.9 828.4 856.2 829 L856.6 830.6 M857.8 830.6 L858.2 829 Q858.5 828.4 859.2 828.4 L862.2 828.4 Q862.9 828.4 863.2 829 L863.6 830.6 M864.8 830.6 L865.2 829 Q865.5 828.4 866.2 828.4 L869.2 828.4 Q869.9 828.4 870.2 829 L870.6 830.6 M871.8 830.6 L872.2 829 Q872.5 828.4 873.2 828.4 L876.2 828.4 Q876.9 828.4 877.2 829 L877.6 830.6 M878.8 830.6 L879.2 829 Q879.5 828.4 880.2 828.4 L883.2 828.4 Q883.9 828.4 884.2 829 L884.6 830.6 M885.8 830.6 L886.2 829 Q886.5 828.4 887.2 828.4 L890.2 828.4 Q890.9 828.4 891.2 829 L891.6 830.6 M892.8 830.6 L893.2 829 Q893.5 828.4 894.2 828.4 L897.2 828.4 Q897.9 828.4 898.2 829 L898.6 830.6 M899.8 830.6 L900.2 829 Q900.5 828.4 901.2 828.4 L904.2 828.4 Q904.9 828.4 905.2 829 L905.6 830.6 M906.8 830.6 L907.2 829 Q907.5 828.4 908.2 828.4 L911.2 828.4 Q911.9 828.4 912.2 829 L912.6 830.6 M913.8 830.6 L914.2 829 Q914.5 828.4 915.2 828.4 L918.2 828.4 Q918.9 828.4 919.2 829 L919.6 830.6 M920.8 830.6 L921.2 829 Q921.5 828.4 922.2 828.4 L925.2 828.4 Q925.9 828.4 926.2 829 L926.6 830.6 M927.8 830.6 L928.2 829 Q928.5 828.4 929.2 828.4 L932.2 828.4 Q932.9 828.4 933.2 829 L933.6 830.6 M934.8 830.6 L935.2 829 Q935.5 828.4 936.2 828.4 L939.2 828.4 Q939.9 828.4 940.2 829 L940.6 830.6 M941.8 830.6 L942.2 829 Q942.5 828.4 943.2 828.4 L946.2 828.4 Q946.9 828.4 947.2 829 L947.6 830.6 M948.8 830.6 L949.2 829 Q949.5 828.4 950.2 828.4 L953.2 828.4 Q953.9 828.4 954.2 829 L954.6 830.6 M955.8 830.6 L956.2 829 Q956.5 828.4 957.2 828.4 L960.2 828.4 Q960.9 828.4 961.2 829 L961.6 830.6 M962.8 830.6 L963.2 829 Q963.5 828.4 964.2 828.4 L967.2 828.4 Q967.9 828.4 968.2 829 L968.6 830.6 M969.8 830.6 L970.2 829 Q970.5 828.4 971.2 828.4 L974.2 828.4 Q974.9 828.4 975.2 829 L975.6 830.6"/>
<path d="M137 830.4 L979 830.4" stroke="#222" stroke-width="1.3" stroke-dasharray="6 1" fill="none"/>
<g class="o">
<path d="M270.5 830.5 L325.2 804.6 Q333 799.5 344.8 799.5 L385 799.5 Q396 799.5 403.8 804.6 L462.7 830.8"/>
<path d="M306.4 830.5 L332 818.3 Q338 814.7 345.7 814.7 L381.6 814.7 Q389 814.7 396.1 818.6 L420.9 830.5"/>
<path d="M320 830.5 L336 822.5 Q340 820.3 345.7 820.3 L381.6 820.3 Q386 820.3 390 822.5 L408.9 830.5"/>
<path d="M301.3 815.2 L307.2 828.5 M324.3 804.6 L332 823.7 M403.8 805 L397 820.3 M426.9 815.2 L420.9 828.5"/>
<path d="M346.2 799.5 L346.2 820.3 M382.4 799.5 L382.4 820.3"/>
<path d="M351.7 818.3 L351.7 824.3 Q351.7 826.3 353.7 826.3 L374.5 826.3 Q376.5 826.3 376.5 824.3 L376.5 818.3"/>
<path d="M353.7 818.3 L353.7 823.3 Q353.7 824.3 354.7 824.3 L373.5 824.3 Q374.5 824.3 374.5 823.3 L374.5 818.3"/>
</g>
<g transform="translate(1114.9,0) scale(-1,1)">
<g class="o">
<path d="M270.5 830.5 L325.2 804.6 Q333 799.5 344.8 799.5 L385 799.5 Q396 799.5 403.8 804.6 L462.7 830.8"/>
<path d="M306.4 830.5 L332 818.3 Q338 814.7 345.7 814.7 L381.6 814.7 Q389 814.7 396.1 818.6 L420.9 830.5"/>
<path d="M320 830.5 L336 822.5 Q340 820.3 345.7 820.3 L381.6 820.3 Q386 820.3 390 822.5 L408.9 830.5"/>
<path d="M301.3 815.2 L307.2 828.5 M324.3 804.6 L332 823.7 M403.8 805 L397 820.3 M426.9 815.2 L420.9 828.5"/>
<path d="M346.2 799.5 L346.2 820.3 M382.4 799.5 L382.4 820.3"/>
<path d="M351.7 818.3 L351.7 824.3 Q351.7 826.3 353.7 826.3 L374.5 826.3 Q376.5 826.3 376.5 824.3 L376.5 818.3"/>
<path d="M353.7 818.3 L353.7 823.3 Q353.7 824.3 354.7 824.3 L373.5 824.3 Q374.5 824.3 374.5 823.3 L374.5 818.3"/>
</g>
</g>
<g class="o">
<path d="M261.1 852.3 Q262.5 846 266 844.6 Q269 843.5 273 845.3 Q279 848 284.2 852.3"/>
<path d="M444.8 852.3 Q450 848 456 845.3 Q460 843.5 463 844.6 Q466.5 846 467.9 852.3"/>
<path d="M261.1 852.3 L285 901.5 C294 922 308 934.8 332 934.8 L397 934.8 C421 934.8 435 922 444.8 901.5 L467.9 852.3"/>
<path d="M284.2 852.3 L303.8 895.5 C309 907 317 914.3 332 914.3 L397 914.3 C412 914.3 420 907 426 895.5 L444.8 852.3"/>
<path d="M285 901.5 L303.8 895.5 M426 895.5 L444.8 901.5 M332 914.3 L332 934.8 M397 914.3 L397 934.8"/>
</g>
<path class="o" d="M335.4 914 A3.2 3 0 0 1 341.8 914 M341.8 914 A3.2 3 0 0 1 348.3 914 M348.3 914 A3.2 3 0 0 1 354.7 914 M354.7 914 A3.2 3 0 0 1 361.2 914 M361.2 914 A3.2 3 0 0 1 367.6 914 M367.6 914 A3.2 3 0 0 1 374.1 914 M374.1 914 A3.2 3 0 0 1 380.5 914 M380.5 914 A3.2 3 0 0 1 387.0 914 M387.0 914 A3.2 3 0 0 1 393.4 914"/>
<path d="M335.4 914.3 L393.5 914.3" stroke="#222" stroke-width="1.3" fill="none"/>
<g transform="translate(1114.9,0) scale(-1,1)">
<g class="o">
<path d="M261.1 852.3 Q262.5 846 266 844.6 Q269 843.5 273 845.3 Q279 848 284.2 852.3"/>
<path d="M444.8 852.3 Q450 848 456 845.3 Q460 843.5 463 844.6 Q466.5 846 467.9 852.3"/>
<path d="M261.1 852.3 L285 901.5 C294 922 308 934.8 332 934.8 L397 934.8 C421 934.8 435 922 444.8 901.5 L467.9 852.3"/>
<path d="M284.2 852.3 L303.8 895.5 C309 907 317 914.3 332 914.3 L397 914.3 C412 914.3 420 907 426 895.5 L444.8 852.3"/>
<path d="M285 901.5 L303.8 895.5 M426 895.5 L444.8 901.5 M332 914.3 L332 934.8 M397 914.3 L397 934.8"/>
</g>
<path class="o" d="M335.4 914 A3.2 3 0 0 1 341.8 914 M341.8 914 A3.2 3 0 0 1 348.3 914 M348.3 914 A3.2 3 0 0 1 354.7 914 M354.7 914 A3.2 3 0 0 1 361.2 914 M361.2 914 A3.2 3 0 0 1 367.6 914 M367.6 914 A3.2 3 0 0 1 374.1 914 M374.1 914 A3.2 3 0 0 1 380.5 914 M380.5 914 A3.2 3 0 0 1 387.0 914 M387.0 914 A3.2 3 0 0 1 393.4 914"/>
<path d="M335.4 914.3 L393.5 914.3" stroke="#222" stroke-width="1.3" fill="none"/>
</g>
<g class="o">
<path d="M351.7 799.5 L351.7 748.0 Q351.7 746.5 353.2 746.5 M374.3 746.5 Q375.8 746.5 375.8 748.0 L375.8 799.5"/>
<path d="M353.4 747.5 L353.4 775 M353.4 784.5 L353.4 799.5 M374.1 747.5 L374.1 775 M374.1 784.5 L374.1 799.5"/>
<path d="M353.4 755.4 L374.1 755.4"/>
<path d="M353.4 762.5 L374.1 762.5"/>
<path d="M353.4 764.25 L374.1 764.25"/>
<path d="M353.4 771.2 L374.1 771.2"/>
<path d="M353.4 751 L374.1 751" stroke="#555" stroke-width="1.5" fill="none"/>
<path d="M351.7 747.0 Q347.09999999999997 752.3 351.7 756.5999999999999"/>
<rect class="o" x="375.8" y="748.0" width="7" height="9" rx="1.5"/>
<rect class="o" x="382.8" y="750.5" width="4.3" height="4.8" rx="1.2"/>
<rect x="376.1" y="748.3" width="2" height="8.5" fill="#222"/>
</g>
<g class="o">
<path d="M738.0 799.5 L738.0 748.0 Q738.0 746.5 739.5 746.5 M762.0 746.5 Q763.5 746.5 763.5 748.0 L763.5 799.5"/>
<path d="M739.7 747.5 L739.7 775 M739.7 784.5 L739.7 799.5 M761.8 747.5 L761.8 775 M761.8 784.5 L761.8 799.5"/>
<path d="M739.7 755.4 L761.8 755.4"/>
<path d="M739.7 762.5 L761.8 762.5"/>
<path d="M739.7 764.25 L761.8 764.25"/>
<path d="M739.7 771.2 L761.8 771.2"/>
<path d="M739.7 751 L761.8 751" stroke="#555" stroke-width="1.5" fill="none"/>
<path d="M763.5 747.0 Q768.1 752.3 763.5 756.5999999999999"/>
<rect class="o" x="731.0" y="748.5" width="7" height="8.5" rx="1.5"/>
<rect class="o" x="727.5" y="750.0" width="4.3" height="5" rx="1.2"/>
<rect x="735.7" y="747.3" width="2" height="9.5" fill="#222"/>
<ellipse class="o" cx="767.3" cy="770" rx="2.4" ry="3.4" transform="rotate(20 767.3 770)"/>
<path d="M761.0 770.5 L764.5 770.5 M766.0 772.5 L765.0 776"/>
</g>
<rect x="675.8" y="833.1" width="35.9" height="5.4" rx="2.7" fill="#6a6a6a" stroke="#1a1a1a" stroke-width="1.3"/>
<path d="M679.5 835.8 L708 835.8" stroke="#222" stroke-width="1.4" stroke-dasharray="2.5 1.5 4 1 3 2"/>
<g class="o">
<path d="M1125.7 799.4 L1125.7 915 C1126 925 1132 932.5 1140 933.6"/>
<path d="M1129 799.4 L1129 918.7 A15.25 15 0 0 0 1159.5 918.7 L1159.5 814.4"/>
<path d="M1127.4 800 L1127.4 916"/>
<path d="M1144.3 814.4 L1144.3 933.7"/>
<path d="M1129 884 Q1144.3 893 1159.5 884.5"/>
<path d="M1125.7 799.4 A15 15 0 0 1 1140.7 784.5"/>
<path d="M1141.3 785.1 L1222.5 785.1 M1144.4 814.5 L1222.5 814.5 M1129.7 799.4 L1222.5 799.4"/>
<path d="M1145 785.1 A14.7 14.7 0 0 0 1145 814.5"/>
<path d="M1148.3 786.2 Q1137 799.4 1148.3 813.5"/>
<path d="M1222.5 784 L1222.5 814.5"/>
<path d="M1173 814.5 L1221 787.8 M1175.5 814.5 L1221.6 789.6"/>
<path d="M1215.5 787.2 L1215.5 791 L1219.5 788.5"/>
<path d="M1222.5 784.8 C1238 783.5 1255 779.5 1266 772.8 L1266 752.5 C1266 744 1274 739 1283.3 739 C1292 739 1298.3 745 1298.3 752 L1298.3 778 C1298 790 1282 802 1260 810.3 C1250 813 1236 814.4 1222.5 814.4"/>
<path d="M1268.6 752 L1268.6 773.5"/>
<path d="M1269 754.8 C1272 748 1278 745.4 1283.3 745.4 C1290 745.4 1295 749 1296.8 754"/>
<path d="M1283.3 739 L1283.3 745.4"/>
<path d="M1269.8 769.8 C1273 764 1278 760.4 1284 760.4 C1291 760.4 1296 764 1296.8 769 C1293 782 1260 797 1222.5 799.4"/>
<path d="M1297.8 779.5 C1290 792 1255 804 1222.5 806.1"/>
<path d="M1298.3 774.3 L1388.6 774.3 M1298.3 778.8 L1388.6 778.8 L1388.6 774.1 L1426.3 691.8 L1426.3 673.4 Q1426.3 663.7 1418.9 663.7 L1372.3 663.7 Q1365.3 663.7 1365.3 672.3 L1365.3 689.5 L1294.3 741.7"/>
<path d="M1370.2 665.6 Q1368 667 1368 672.3 L1368 690.7 L1296 743.5"/>
<circle class="o" cx="1378.3" cy="671.8" r="6.8"/><circle class="o" cx="1416.2" cy="671.8" r="6.8"/>
<path d="M1376 671.8 l1.2 -2 l2.3 0 l1.2 2 l-1.2 2 l-2.3 0 Z M1413.9 671.8 l1.2 -2 l2.3 0 l1.2 2 l-1.2 2 l-2.3 0 Z"/>
<path d="M1372.5 675.5 L1384 668 M1410.4 675.5 L1422 668"/>
<path d="M1329 716.5 L1350.7 703.5 L1352.5 706.2 L1331 719 Z"/>
<path d="M1355 686.4 L1368 686.4 M1355 689.6 L1368 689.6 M1355 686.4 Q1353.4 688 1355 689.6"/>
<path d="M1426.3 686.4 L1436.5 686.4 Q1438.2 688 1436.5 689.6 L1426.3 689.6"/>
</g>
<rect x="1377.7" y="686.2" width="14.7" height="3.4" rx="1.2" fill="none" stroke="#222" stroke-width="1.1"/>
<rect x="1401.6" y="686.2" width="24.6" height="3.4" rx="1.2" fill="none" stroke="#222" stroke-width="1.1"/>
<g class="o">
<path d="M1412.7 693 L1412.7 707 L1415.3 707 L1415.3 693 Z M1410.5 696 L1417.5 696 L1417.5 702.5 L1410.5 702.5 Z"/>
</g>
<rect x="1411.5" y="697.5" width="5" height="3.5" fill="#333"/>
<path d="M1145.9 785 L1146.7 782 L1157.5 782 L1158.3 785 Z" fill="#3a3a3a" stroke="#222" stroke-width="0.7"/>
<path d="M1148.4 783.2 L1155.8 783.2" stroke="#999" stroke-width="0.8"/>
<path d="M1159.9 785 L1160.7 782 L1173.0 782 L1173.8 785 Z" fill="#3a3a3a" stroke="#222" stroke-width="0.7"/>
<path d="M1162.4 783.2 L1171.3 783.2" stroke="#999" stroke-width="0.8"/>
<path d="M1175.3 785 L1176.1 782 L1186.9 782 L1187.7 785 Z" fill="#3a3a3a" stroke="#222" stroke-width="0.7"/>
<path d="M1177.8 783.2 L1185.2 783.2" stroke="#999" stroke-width="0.8"/>
<path d="M1189.2 785 L1190.0 782 L1201.6 782 L1202.4 785 Z" fill="#3a3a3a" stroke="#222" stroke-width="0.7"/>
<path d="M1191.7 783.2 L1199.9 783.2" stroke="#999" stroke-width="0.8"/>
<path d="M1203.9 785 L1204.7 782 L1215.5 782 L1216.3 785 Z" fill="#3a3a3a" stroke="#222" stroke-width="0.7"/>
<path d="M1206.4 783.2 L1213.8 783.2" stroke="#999" stroke-width="0.8"/>
<defs><clipPath id="cp1"><polygon points="1061,404.6 1066,403.3 1169.8,426 1150.2,432 1071.3,414.3"/></clipPath><clipPath id="cp2"><polygon points="1231.7,452.3 1261.1,446.6 1305,455.4 1385,472.6 1420,482.5 1475.2,495.2 1462.8,499.1 1439.6,500.6 1422.6,499.1 1385,489.1 1305,470.0"/></clipPath></defs>
<g clip-path="url(#cp1)"><rect x="1055" y="400" width="125" height="40" fill="#8c8c8c"/><path d="M1000.0 440 L1047.6 400 M1006.6 440 L1054.2 400 M1013.2 440 L1060.8 400 M1019.8 440 L1067.4 400 M1026.4 440 L1074.0 400 M1033.0 440 L1080.6 400 M1039.6 440 L1087.2 400 M1046.2 440 L1093.8 400 M1052.8 440 L1100.4 400 M1059.4 440 L1107.0 400 M1066.0 440 L1113.6 400 M1072.6 440 L1120.2 400 M1079.2 440 L1126.8 400 M1085.8 440 L1133.4 400 M1092.4 440 L1140.0 400 M1099.0 440 L1146.6 400 M1105.6 440 L1153.2 400 M1112.2 440 L1159.8 400 M1118.8 440 L1166.4 400 M1125.4 440 L1173.0 400 M1132.0 440 L1179.6 400 M1138.6 440 L1186.2 400 M1145.2 440 L1192.8 400 M1151.8 440 L1199.4 400 M1158.4 440 L1206.0 400 M1165.0 440 L1212.6 400 M1171.6 440 L1219.2 400 M1178.2 440 L1225.8 400 M1184.8 440 L1232.4 400" stroke="#151515" stroke-width="2.8" stroke-dasharray="4 0.8" fill="none"/></g>
<g clip-path="url(#cp2)"><path d="M1226.1 465.5 L1241.9 428.7 M1234.5 467.6 L1249.1 430.3 M1243.1 469.7 L1256.2 431.9 M1251.8 471.9 L1263.5 433.6 M1260.6 474.0 L1270.8 435.3 M1269.5 476.1 L1278.2 437.1 M1278.5 478.3 L1285.6 438.9 M1287.6 480.4 L1293.1 440.7 M1296.8 482.5 L1300.7 442.7 M1306.1 484.5 L1308.4 444.6 M1315.4 486.6 L1316.2 446.6 M1324.9 488.7 L1324.1 448.7 M1334.4 490.7 L1332.0 450.8 M1344.0 492.8 L1340.1 453.0 M1353.6 494.8 L1348.2 455.2 M1363.4 496.8 L1356.5 457.4 M1373.1 498.9 L1364.9 459.7 M1383.0 500.9 L1373.3 462.1 M1392.9 502.9 L1381.9 464.5 M1402.9 505.0 L1390.6 466.9 M1412.9 507.0 L1399.4 469.3 M1423.0 509.0 L1408.3 471.8 M1433.1 511.1 L1417.3 474.3 M1443.3 513.2 L1426.5 476.9 M1453.6 515.2 L1435.7 479.5 M1463.9 517.3 L1445.1 482.1 M1474.3 519.4 L1454.5 484.7 M1484.8 521.6 L1464.1 487.3" stroke="#1e1e1e" stroke-width="4.1" stroke-dasharray="1.9 0.8" fill="none"/></g>
<g class="o">
<path d="M1061,404.6 L1066,403.3 L1169.8,426 L1150.2,432 L1071.3,414.3 Z"/>
<path d="M1231.7,452.3 L1261.1,446.6 L1305,455.4 L1385,472.6 L1420,482.5 L1475.2,495.2 L1462.8,499.1 L1439.6,500.6 L1422.6,499.1 L1385,489.1 L1305,470.0 Z"/>
<path d="M1061 404.6 C1057 405.3 1052 408 1050.6 412.5 C1050 416.5 1053 419 1056.6 419.7 L1075.9 426.5"/>
<path d="M1062 406.5 C1058 407.5 1055 410 1055.5 413.5 C1056 416.5 1059 418.3 1063 419.3 L1077 422.8"/>
<path d="M1060.5 408.6 L1071.3 414.3 M1058.7 417.5 Q1062 412 1066 411.5 L1070.8 413.5 M1066.5 411.5 L1067 420.5"/>
<path d="M1150.2 432 L1231.7 452.6"/>
<path d="M1071.3 414.3 L1075.9 422.0 L1419.5 512.0 C1430 512 1440 514 1447.3 513.8 C1458 513.5 1468 513 1474.4 511.5"/>
<path d="M1075.9 426.5 L1424.1 519.8 C1432 519 1440 520.3 1447.3 520 C1456 519.7 1464 518 1470 515 C1477 511 1481.4 507 1481.4 503 C1481.4 500 1479.5 497.5 1475.2 495.2"/>
<path d="M1422.6 499.1 Q1418.5 508 1419.5 517"/>
<path d="M1181 440.5 Q1178 447.5 1180 454.4"/>
<path d="M1185 441.4 Q1182 448.6 1184 455.4"/>
<path d="M1361 484.4 Q1357 493.1 1360 502.6"/>
<path d="M1365 485.3 Q1361 494.1 1364 503.7"/>
<path d="M1108 411.6 C1118 405 1126 402.5 1135.8 401.3 C1142 398.5 1148 397.6 1156.9 398.2 C1164 399.5 1172 403.5 1177 409.5 C1182 414 1186.3 419 1187.3 425.8 C1187.3 429 1185.5 432 1184.7 432.5 C1182 435 1178 436.5 1175.5 438.7"/>
<path d="M1124.4 415.6 C1130 412 1138 409 1146.1 407.7 M1157.4 408.8 C1162 410.5 1166.7 413 1170 417 C1173 420 1175.5 422.5 1175.5 424.2 L1169.8 426"/>
<path d="M1171.9 426.8 C1174.5 428.5 1176.5 431 1177 436.1"/>
<path d="M1132.2 403.5 Q1130.5 408 1133.5 412.3 M1139.2 399.5 Q1137.5 404 1139.5 409.5 M1145.3 397 Q1144 402 1146.5 407.5 M1156.9 397.8 Q1155 403 1158.1 408.5 M1164.3 400.5 Q1162.5 406 1163.5 410.7 M1172.2 415.6 Q1174 411.5 1178.9 410.4 M1175.3 424.2 Q1180 421.5 1187.3 422"/>
<path d="M1158.1 409.5 C1164 412 1170 416 1173.4 419.3 M1169.8 426 C1174 429 1178 432 1181 433.5 M1176.5 430.9 L1177 437"/>
</g>
<path d="M1148.1 407.7 L1156.9 408.5 L1156.9 413.9 L1149 413.5 Z" fill="#999" stroke="#555" stroke-width="0.8"/>
<g class="o">
<path d="M1175.3 366.4 L1189.5 364.6 L1200.8 367.8 L1199 374.2 L1190.9 407.1 L1179.6 408.9"/>
<path d="M1175.3 366.4 L1175.3 376 L1183 376 L1183 366 M1175.3 371 L1183 370.5"/>
<path d="M1173.9 377 L1155.5 397.2 M1181.7 376.3 L1162.6 399"/>
</g>
<circle cx="1186.7" cy="369.9" r="2.3" fill="#222"/><circle cx="1197.3" cy="368.1" r="2.3" fill="#222"/>
<path d="M1186 375.5 L1190 375 M1193 374.5 L1199 373.5" stroke="#333" stroke-width="1.2"/>
<g class="o">
<path d="M1076.6 426.6 L1087.4 455.4 C1090 465 1095 471 1100.9 475.2 L1121.7 482.4 C1126 484.5 1130 485.5 1133 484.5 C1138 482.5 1141.5 479 1142.4 475.2 L1150.5 446.5"/>
<path d="M1087.4 430.0 L1096.4 452.7 C1098.5 458 1101 462 1104.5 464.4"/>
<path d="M1091 431.0 L1099.1 453.6"/>
<path d="M1138.8 443.3 L1132.5 470.7 C1131 473 1129 474 1126.2 472"/>
<path d="M1087.4 455.4 L1096.4 452.7 M1100.9 475.2 Q1100 469 1104.5 464.4 M1121.7 482.4 Q1121 476 1124 471.3 M1132.5 470.7 L1142.4 475.2"/>
</g>
<path d="M1105 464.8 L1126.2 472" stroke="#111" stroke-width="1.6"/>
<g class="o">
<path d="M1231.7 452.3 L1314.7 425.4 C1322 425 1330 427.5 1337.1 430.7 C1344 433 1350.6 436.3 1356 440 C1363.1 445 1370 449.5 1374.5 454.2 C1379 460 1382 466 1382.7 472"/>
<path d="M1274 449.2 L1310.6 438.7 C1318 438 1326 440 1333.2 442.8 C1340 444.5 1348.7 448 1356 455 C1360 459 1363 463 1364.5 467.5"/>
<path d="M1283.2 450.8 L1307.5 441.8"/>
<path d="M1290.5 433.8 Q1288.5 440 1292 445.6 M1302.8 428.6 Q1300.5 434 1302.8 440 M1313.3 427 Q1311.5 434 1313.3 440 M1339 431.3 Q1337 437 1340 444.2 M1352 437.5 Q1347 444 1348.5 449 M1364 445.8 Q1357 452 1358 459.5"/>
</g>
<path d="M1317.8 442.8 L1330.2 444.5 L1330.2 450 L1318.5 448.5 Z" fill="#bbb" stroke="#555" stroke-width="0.8"/>
<g class="o">
<path d="M1340.3 388.1 L1357.7 383.8 L1372.3 385.4 L1373.4 395.2 M1340.3 388.1 L1345.2 391 L1345.2 398 M1357.7 383.8 L1358.2 388 L1358.2 400 M1345.2 391 L1358.2 388"/>
<path d="M1344.7 398.4 L1324.6 427.9 M1357.7 400.6 L1337.1 430.7"/>
<path d="M1371.2 404.9 L1361.5 438.5 Q1360 439.8 1357.7 439.6"/>
</g>
<circle cx="1362.5" cy="391.4" r="2.2" fill="#222"/><circle cx="1371.8" cy="401.7" r="2.2" fill="#222"/>
<path d="M1361 398.5 L1364 397.5 M1366 397 L1371 395.5" stroke="#333" stroke-width="1.2"/>
<g class="o">
<path d="M1224.3 466.2 L1237.7 503.9 C1240 511 1243 515 1246 518.4 C1251 524 1256 529 1262.5 532.8 L1296.5 545.2 C1301 547 1305 548.5 1309.8 548.3 C1314 548 1318 546.5 1321.9 544.4 C1326 541.5 1330 537.5 1332.5 533.8 L1349.9 500.5"/>
<path d="M1239.8 470.9 L1251.1 501.9 C1254 509 1258 514 1264.5 518.4"/>
<path d="M1242.6 471.6 L1253.8 501"/>
<path d="M1332.5 495.5 L1319.1 525.3 C1316 529.5 1312 532.5 1308.4 532.4 L1300.6 531"/>
<path d="M1332.5 495.5 Q1335.5 493 1338.9 493.7 Q1341.5 494.5 1343.9 497.6 L1349.9 500.5"/>
<path d="M1237.7 503.9 L1248 501.9 M1262.5 532.8 Q1259.5 527 1262.5 519.5 M1298.6 531.8 Q1295 538 1296.5 545.2 M1319.1 525.3 L1330.4 534.5"/>
<path d="M1224.3 466.2 Q1226 462 1229 463.5 Q1233 465.5 1239.8 470.4"/>
</g>
<path d="M1264.5 518.4 L1300.6 530.4" stroke="#111" stroke-width="1.6"/>
<rect x="1235.8" y="459.6" width="21" height="5.4" rx="2.4" fill="#1a1a1a" transform="rotate(14 1246.3 462.3)"/>
<path d="M1239 461.5 L1254 465.3" stroke="#888" stroke-width="0.8" stroke-dasharray="1.5 1"/>
</svg>
</body></html>
